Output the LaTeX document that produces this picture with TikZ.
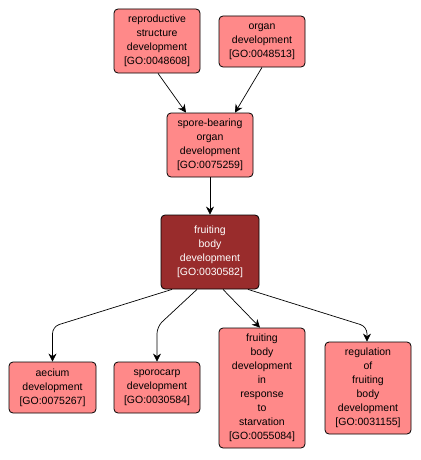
\documentclass[tikz,border=0pt]{standalone}
\usepackage{fontspec}
\setmainfont{Liberation Sans}
\usetikzlibrary{arrows.meta,calc}
\definecolor{lightbox}{RGB}{255,137,137}
\definecolor{darkbox}{RGB}{153,44,44}
\tikzset{
  term/.style={draw=black, line width=0.8pt, fill=lightbox, rounded corners=4pt,
    align=center, inner sep=0pt, font=\fontsize{10.5}{14}\selectfont},
  focus/.style={term, fill=darkbox, text=white},
  edge/.style={draw=black, line width=0.7pt, -{Stealth[length=8pt,width=8pt]}, rounded corners=7pt},
}
\begin{document}
\begin{tikzpicture}[x=1pt,y=-1pt]
\useasboundingbox (0,0) rectangle (420,460);
\node[term, minimum width=86pt, minimum height=64pt] (repro) at (157,41) {reproductive\\structure\\development\\{[GO:0048608]}};
\node[term, minimum width=86pt, minimum height=51pt] (organ) at (262,41.5) {organ\\development\\{[GO:0048513]}};
\node[term, minimum width=86pt, minimum height=64pt] (spore) at (210,145) {spore-bearing\\organ\\development\\{[GO:0075259]}};
\node[focus, minimum width=98pt, minimum height=74pt] (fruit) at (210,252) {fruiting\\body\\development\\{[GO:0030582]}};
\node[term, minimum width=87pt, minimum height=51pt] (aecium) at (52.5,387.5) {aecium\\development\\{[GO:0075267]}};
\node[term, minimum width=86pt, minimum height=51pt] (sporo) at (157,387.5) {sporocarp\\development\\{[GO:0030584]}};
\node[term, minimum width=86pt, minimum height=120pt] (starv) at (262,388) {fruiting\\body\\development\\in\\response\\to\\starvation\\{[GO:0055084]}};
\node[term, minimum width=86pt, minimum height=92pt] (regul) at (368,388) {regulation\\of\\fruiting\\body\\development\\{[GO:0031155]}};

\draw[edge] ($(repro.south)+(1,0)$) -- ($(spore.north)+(-24,0)$);
\draw[edge] (organ.south) -- ($(spore.north)+(25,0)$);
\draw[edge] (spore.south) -- (fruit.north);
\draw[edge] ($(fruit.south)+(-38,0)$) -- ($(aecium.north)+(0,-35)$) -- (aecium.north);
\draw[edge] ($(fruit.south)+(-13,0)$) -- ($(sporo.north)+(0,-35)$) -- (sporo.north);
\draw[edge] ($(fruit.south)+(13,0)$) -- ($(starv.north)+(-2,0)$);
\draw[edge] ($(fruit.south)+(38,0)$) -- ($(regul.north)+(-1,-15)$) -- ($(regul.north)+(-1,0)$);
\end{tikzpicture}
\end{document}
